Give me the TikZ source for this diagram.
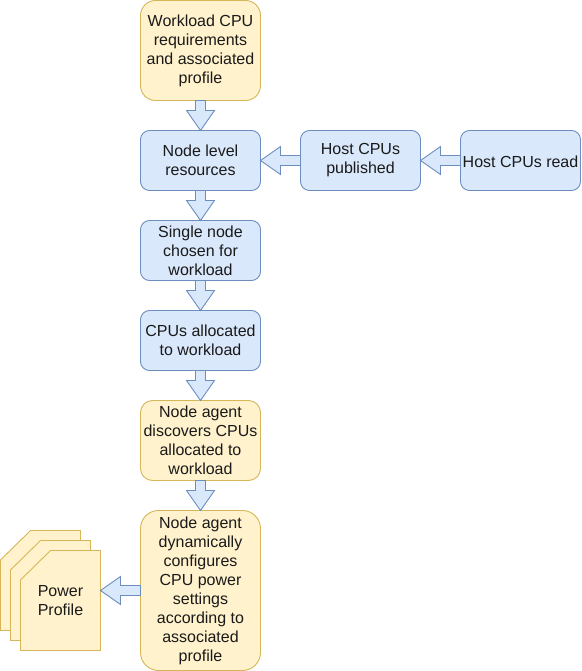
\documentclass[tikz,border=0pt]{standalone}
\usepackage{fontspec}
\setmainfont{Liberation Sans}
\usetikzlibrary{calc}
\definecolor{yfill}{HTML}{FFF2CC}
\definecolor{ystroke}{HTML}{D6B656}
\definecolor{bfill}{HTML}{DAE8FC}
\definecolor{bstroke}{HTML}{6C8EBF}
\definecolor{txt}{HTML}{1A1A1A}
\tikzset{
  labeltext/.style={align=center,text=txt,inner sep=0pt,outer sep=0pt,
    font=\fontsize{16pt}{19pt}\selectfont,
    execute at begin node={\rule{0pt}{14.8pt}}},
  boxbase/.style={rectangle,draw,line width=0.9pt,labeltext,minimum width=120pt},
  ybox/.style={boxbase,fill=yfill,draw=ystroke},
  bbox/.style={boxbase,fill=bfill,draw=bstroke},
  docshape/.style={fill=yfill,draw=ystroke,line width=0.9pt,line join=miter},
  flex/.style={fill=bfill,draw=bstroke,line width=0.9pt,line join=miter,
    to path={
      let \p1=(\tikztostart),\p2=(\tikztotarget) in
      coordinate (hb) at ($(\p2)!20pt!(\p1)$)
      -- ($(\p1)!5pt!90:(\p2)$)
      -- ($(hb)!5pt!90:(\p2)$)
      -- ($(hb)!14pt!90:(\p2)$)
      -- (\p2)
      -- ($(hb)!14pt!-90:(\p2)$)
      -- ($(hb)!5pt!-90:(\p2)$)
      -- ($(\p1)!5pt!-90:(\p2)$)
      -- cycle
    }},
}
\begin{document}
\begin{tikzpicture}[x=1pt,y=-1pt]
\useasboundingbox (0,0) rectangle (581,671);
\node[ybox,minimum height=100pt,rounded corners=15pt] (wl) at (200.5,50.5) {Workload CPU\\requirements\\and associated\\profile};
\node[bbox,minimum height=60pt,rounded corners=9pt] (nl) at (200.5,160.5) {Node level\\resources};
\node[bbox,minimum height=60pt,rounded corners=9pt] (hp) at (360.5,160.5) {Host CPUs\\published};
\node[bbox,minimum height=60pt,rounded corners=9pt] (hr) at (520.5,160.5) {Host CPUs read};
\node[bbox,minimum height=60pt,rounded corners=9pt] (sn) at (200.5,250.5) {Single node\\chosen for\\workload};
\node[bbox,minimum height=60pt,rounded corners=9pt] (ca) at (200.5,340.5) {CPUs allocated\\to workload};
\node[ybox,minimum height=80pt,rounded corners=12pt] (nd) at (200.5,440.5) {Node agent\\discovers CPUs\\allocated to\\workload};
\node[ybox,minimum height=160pt,rounded corners=18pt] (nc) at (200.5,590.5) {Node agent\\dynamically\\configures\\CPU power\\settings\\according to\\associated\\profile};
\draw[docshape] (0.5,560) -- (30.5,530.5) -- (80.5,530.5) -- (80.5,630.5) -- (0.5,630.5) -- cycle;
\draw[docshape] (10.5,570) -- (40.5,540.5) -- (90.5,540.5) -- (90.5,640.5) -- (10.5,640.5) -- cycle;
\node[minimum width=80pt,minimum height=100pt,inner sep=0pt,outer sep=0pt] (pp) at (60.5,600.5) {};
\draw[docshape] (pp.west |- 0,580) -- (50.5,550.5) -- (pp.north east) -- (pp.south east) -- (pp.south west) -- cycle;
\node[labeltext] (pt) at (pp.center) {Power\\Profile};
\coordinate (ppin) at (pp.east |- nc.west);
\draw[flex] (wl.south) to (nl.north);
\draw[flex] (nl.south) to (sn.north);
\draw[flex] (sn.south) to (ca.north);
\draw[flex] (ca.south) to (nd.north);
\draw[flex] (nd.south) to (nc.north);
\draw[flex] (hp.west) to (nl.east);
\draw[flex] (hr.west) to (hp.east);
\draw[flex] (nc.west) to (ppin);
\end{tikzpicture}
\end{document}
